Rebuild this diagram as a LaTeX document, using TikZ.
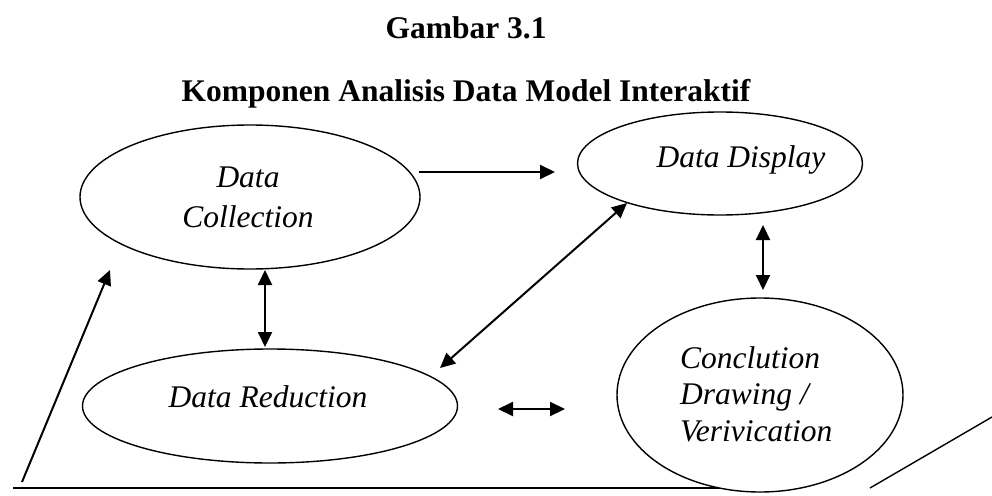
\documentclass[tikz,border=0pt]{standalone}
\usepackage{fontspec}
\setmainfont{Liberation Serif}
\usetikzlibrary{arrows.meta,shapes.geometric}
\begin{document}
\begin{tikzpicture}[x=1pt,y=-1pt,
  bub/.style={draw,ellipse,line width=1.4pt,fill=white,inner sep=0pt},
  txt/.style={font=\fontsize{31.5}{36.5}\selectfont\itshape,inner sep=0pt},
  arr/.style={line width=2pt,-{Triangle[length=15pt,width=14pt]}},
  darr/.style={line width=2pt,{Triangle[length=15pt,width=14pt]}-{Triangle[length=15pt,width=14pt]}},
  ttl/.style={font=\fontsize{31.5}{36}\selectfont\bfseries,anchor=base,inner sep=0pt},
  edge/.style={line width=1.8pt}]
\useasboundingbox (0,0) rectangle (992,495);
\fill[white] (0,0) rectangle (992,495);

\node[ttl] (t1) at (466,38) {Gambar 3.1};
\node[ttl] (t2) at (466,101) {Komponen Analisis Data Model Interaktif};

% bottom frame line (behind the conclusion ellipse)
\coordinate (bl) at (13,488);
\coordinate (br) at (790,488);
\draw[edge] (bl) -- (br);
\coordinate (rs) at (870,488);
\coordinate (re) at (992,417);
\draw[line width=1.4pt] (rs) -- (re);

\node[bub,minimum width=340pt,minimum height=144pt] (dc) at (250,197) {};
\node[bub,minimum width=285pt,minimum height=103pt] (dd) at (720,163.5) {};
\node[bub,minimum width=375pt,minimum height=114pt] (dr) at (270,406) {};
\node[bub,minimum width=286pt,minimum height=194pt] (cd) at (760,395) {};

\node[txt,align=center,font=\fontsize{31.5}{40}\selectfont\itshape] (dct) at (248,197) {Data\\Collection};
\node[txt,anchor=base] (ddt) at (741,167) {Data Display};
\node[txt,anchor=base] (drt) at (268,407) {Data Reduction};
\node[txt,align=left,anchor=west] (cdt) at (680,394) {Conclution\\Drawing /\\Verivication};

% connectors
\coordinate (a1) at (419,172);
\coordinate (a2) at (555,172);
\draw[arr] (a1) -- (a2);

\coordinate (b1) at (265,270);
\coordinate (b2) at (265,347);
\draw[darr] (b1) -- (b2);

\coordinate (c1) at (763,225);
\coordinate (c2) at (763,290);
\draw[darr] (c1) -- (c2);

\coordinate (d1) at (440,368);
\coordinate (d2) at (627,203);
\draw[darr] (d1) -- (d2);

\coordinate (e1) at (498,409);
\coordinate (e2) at (565,409);
\draw[darr] (e1) -- (e2);

\coordinate (f1) at (22,482);
\coordinate (f2) at (110,270);
\draw[arr] (f1) -- (f2);
\end{tikzpicture}
\end{document}
